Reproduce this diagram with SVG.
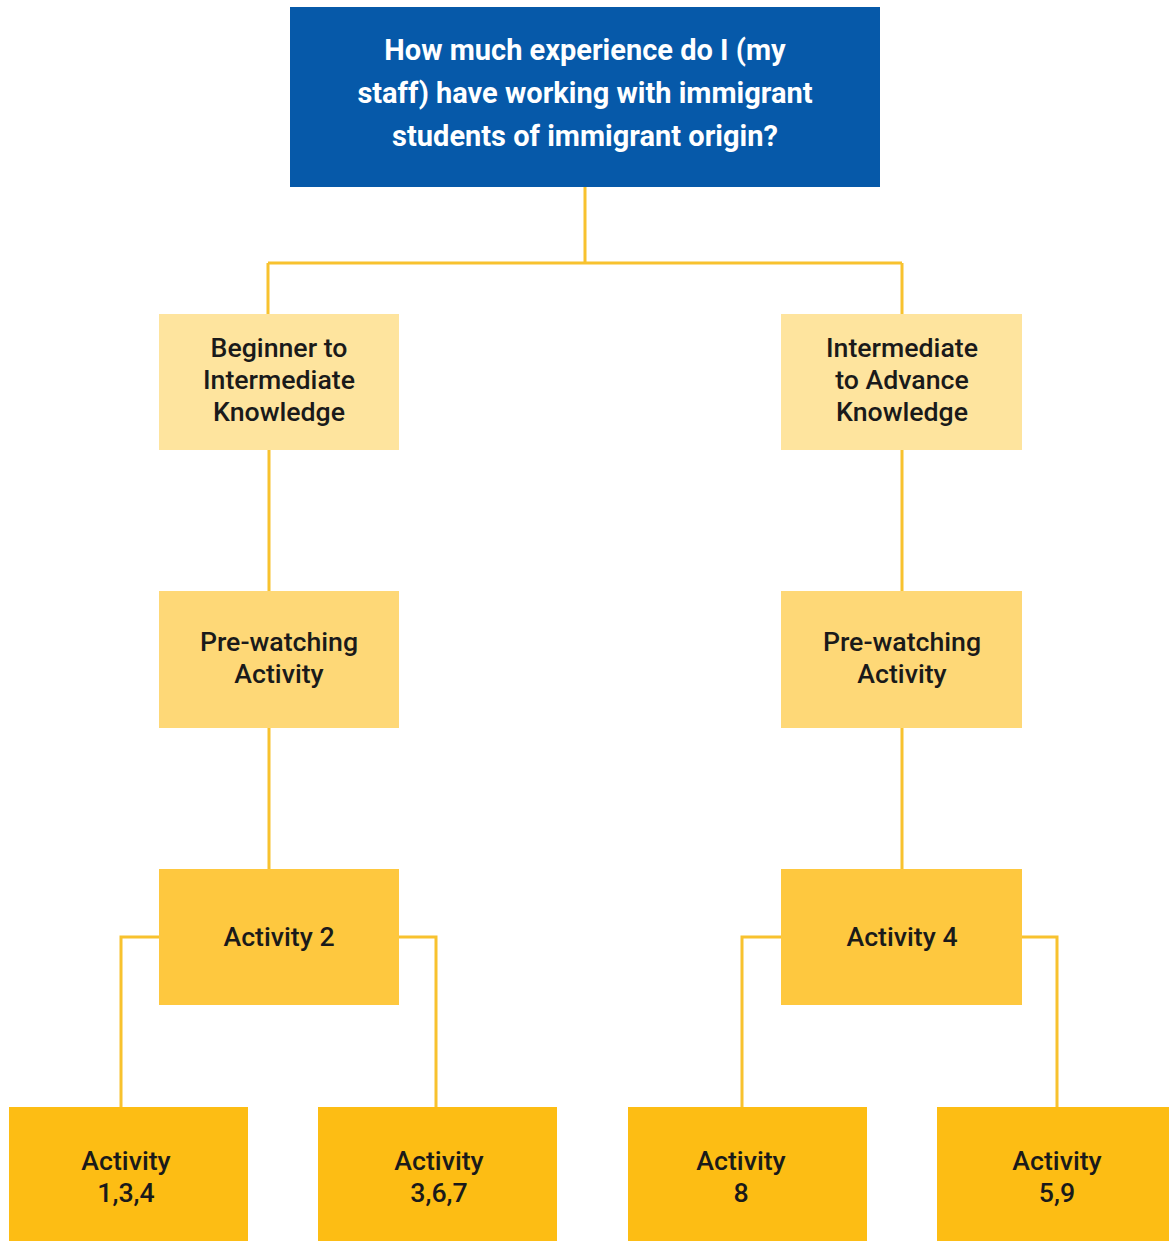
<svg xmlns="http://www.w3.org/2000/svg" width="1169" height="1241" viewBox="0 0 1169 1241">
<style>
.t{font-family:Roboto,"Liberation Sans",sans-serif;font-weight:500;text-anchor:middle;fill:#1a1a1a;font-size:26.7px}
.h{font-family:Roboto,"Liberation Sans",sans-serif;font-weight:700;text-anchor:middle;fill:#ffffff;font-size:29px}
.c{fill:none;stroke:#F8C22E;stroke-width:3}
.l1{fill:#FEE49E}
.l2{fill:#FED877}
.l3{fill:#FEC83F}
.l4{fill:#FDBD14}
</style>
<rect width="1169" height="1241" fill="#ffffff"/>
<g id="connectors">
<path class="c" d="M585 187V263M268 263H902M268 263V314M902 263V314"/>
<path class="c" d="M269 450V591M269 728V869M902 450V591M902 728V869"/>
<path class="c" d="M159 937H121V1107M399 937H436V1107M781 937H742V1107M1022 937H1057V1107"/>
</g>
<g id="root">
<rect x="290" y="7" width="590" height="180" fill="#0659A9"/>
<text class="h" x="585" y="60">How much experience do I (my</text>
<text class="h" x="585" y="103">staff) have working with immigrant</text>
<text class="h" x="585" y="146">students of immigrant origin?</text>
</g>
<g id="beginner">
<rect class="l1" x="159" y="314" width="240" height="136"/>
<text class="t" x="279" y="357">Beginner to</text>
<text class="t" x="279" y="389">Intermediate</text>
<text class="t" x="279" y="421">Knowledge</text>
</g>
<g id="intermediate">
<rect class="l1" x="781" y="314" width="241" height="136"/>
<text class="t" x="902" y="357">Intermediate</text>
<text class="t" x="902" y="389">to Advance</text>
<text class="t" x="902" y="421">Knowledge</text>
</g>
<g id="pre-left">
<rect class="l2" x="159" y="591" width="240" height="137"/>
<text class="t" x="279" y="651">Pre-watching</text>
<text class="t" x="279" y="683">Activity</text>
</g>
<g id="pre-right">
<rect class="l2" x="781" y="591" width="241" height="137"/>
<text class="t" x="902" y="651">Pre-watching</text>
<text class="t" x="902" y="683">Activity</text>
</g>
<g id="activity2">
<rect class="l3" x="159" y="869" width="240" height="136"/>
<text class="t" x="279" y="946">Activity 2</text>
</g>
<g id="activity4">
<rect class="l3" x="781" y="869" width="241" height="136"/>
<text class="t" x="902" y="946">Activity 4</text>
</g>
<g id="act134">
<rect class="l4" x="9" y="1107" width="239" height="140"/>
<text class="t" x="126" y="1170">Activity</text>
<text class="t" x="126" y="1202">1,3,4</text>
</g>
<g id="act367">
<rect class="l4" x="318" y="1107" width="239" height="140"/>
<text class="t" x="439" y="1170">Activity</text>
<text class="t" x="439" y="1202">3,6,7</text>
</g>
<g id="act8">
<rect class="l4" x="628" y="1107" width="239" height="140"/>
<text class="t" x="741" y="1170">Activity</text>
<text class="t" x="741" y="1202">8</text>
</g>
<g id="act59">
<rect class="l4" x="937" y="1107" width="240" height="140"/>
<text class="t" x="1057" y="1170">Activity</text>
<text class="t" x="1057" y="1202">5,9</text>
</g>
</svg>
